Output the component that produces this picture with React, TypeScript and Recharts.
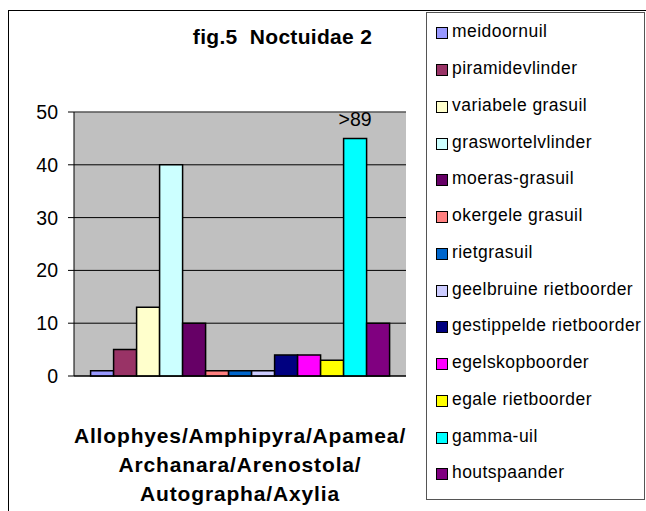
import React from 'react';
import { BarChart, Bar, XAxis, YAxis, CartesianGrid, Legend, LabelList, ReferenceLine } from 'recharts';

const categoryLines = ['Allophyes/Amphipyra/Apamea/', 'Archanara/Arenostola/', 'Autographa/Axylia'];
const categoryName = categoryLines.join('\n');

const seriesNames = [
  'meidoornuil',
  'piramidevlinder',
  'variabele grasuil',
  'graswortelvlinder',
  'moeras-grasuil',
  'okergele grasuil',
  'rietgrasuil',
  'geelbruine rietboorder',
  'gestippelde rietboorder',
  'egelskopboorder',
  'egale rietboorder',
  'gamma-uil',
  'houtspaander',
];

const seriesValues = [1, 5, 13, 40, 10, 1, 1, 1, 4, 4, 3, 45, 10];

const seriesLabels = ['', '', '', '', '', '', '', '', '', '', '', '>89', ''];

const seriesColors = [
  '#9999FF',
  '#993366',
  '#FFFFCC',
  '#CCFFFF',
  '#660066',
  '#FF8080',
  '#0066CC',
  '#CCCCFF',
  '#000080',
  '#FF00FF',
  '#FFFF00',
  '#00FFFF',
  '#800080',
];

const yTicks = [0, 10, 20, 30, 40, 50];
const titleText = 'fig.5  Noctuidae 2';

const row: Record<string, any> = { name: categoryName };
seriesNames.forEach((n, i) => {
  row['s' + i] = seriesValues[i];
});
const data = [row];

const FONT = '"Liberation Sans", Arial, sans-serif';

const CategoryTick = (props: any) => {
  const { x, y, payload } = props;
  const lines = String(payload.value).split('\n');
  return (
    <text
      x={x}
      y={y}
      textAnchor="middle"
      fontFamily={FONT}
      fontWeight="bold"
      fontSize={21}
      fill="#000"
      style={{ letterSpacing: '0.85px' }}
    >
      {lines.map((l, i) => (
        <tspan key={i} x={x} y={y + 67 + i * 29}>
          {l}
        </tspan>
      ))}
    </text>
  );
};

const LegendContent = (props: any) => {
  const payload = [...(props.payload || [])].sort(
    (a: any, b: any) => seriesNames.indexOf(a.value) - seriesNames.indexOf(b.value)
  );
  return (
    <div style={{ paddingTop: 2, fontFamily: FONT }}>
      {payload.map((p: any, i: number) => (
        <div
          key={i}
          style={{ height: 36.75, display: 'flex', alignItems: 'center', paddingLeft: 9 }}
        >
          <span
            style={{
              display: 'inline-block',
              width: 12,
              height: 12,
              boxSizing: 'border-box',
              border: '1px solid #000',
              background: p.color,
              flexShrink: 0,
            }}
          />
          <span
            style={{
              fontSize: 17.5,
              lineHeight: '17px',
              marginLeft: 4,
              position: 'relative',
              top: -1.5,
              color: '#000',
              whiteSpace: 'nowrap',
              letterSpacing: '0.45px',
            }}
          >
            {p.value}
          </span>
        </div>
      ))}
    </div>
  );
};

export default function App() {
  return (
    <div
      style={{
        position: 'absolute',
        left: 0,
        top: 0,
        width: 646,
        height: 511,
        overflow: 'hidden',
        background: '#fff',
        fontFamily: FONT,
      }}
    >
      <div
        style={{
          position: 'absolute',
          left: 8,
          top: 10,
          width: 700,
          height: 600,
          border: '1px solid #000',
          boxSizing: 'border-box',
        }}
      />
      <div
        style={{
          position: 'absolute',
          left: 172,
          top: 27,
          width: 221,
          textAlign: 'center',
          fontSize: 21,
          lineHeight: '20px',
          fontWeight: 'bold',
          whiteSpace: 'pre',
          color: '#000',
          letterSpacing: '0.3px',
        }}
      >
        {titleText}
      </div>
      <div style={{ position: 'absolute', left: 0, top: 0 }}>
        <BarChart
          width={646}
          height={511}
          data={data}
          margin={{ top: 112, right: 240, left: 14, bottom: 0 }}
          barGap={0}
          barCategoryGap="5%"
          style={{ fontFamily: FONT }}
        >
          <CartesianGrid vertical={false} stroke="#000" fill="#C0C0C0" fillOpacity={1} />
          <XAxis
            dataKey="name"
            axisLine={{ stroke: '#000' }}
            tickLine={false}
            tickSize={0}
            tickMargin={0}
            height={135}
            tick={<CategoryTick />}
            interval={0}
          />
          <YAxis
            domain={[0, 50]}
            ticks={yTicks}
            width={60}
            axisLine={{ stroke: '#000' }}
            tickLine={{ stroke: '#000' }}
            tickSize={6}
            tickMargin={10}
            tick={{ fill: '#000', fontSize: 19.5, fontFamily: FONT }}
            interval={0}
          />
          <YAxis
            yAxisId="right"
            orientation="right"
            domain={[0, 50]}
            ticks={yTicks}
            width={0}
            axisLine={{ stroke: '#808080' }}
            tickLine={false}
            tick={false}
          />
          <ReferenceLine y={50} stroke="#808080" />
          {seriesNames.map((n, i) => (
            <Bar
              key={n}
              dataKey={'s' + i}
              name={n}
              fill={seriesColors[i]}
              stroke="#000"
              strokeWidth={1.5}
              isAnimationActive={false}
            >
              {seriesLabels[i] ? (
                <LabelList
                  dataKey={'s' + i}
                  position="top"
                  offset={12}
                  formatter={() => seriesLabels[i]}
                  fill="#000"
                  fontSize={19.5}
                  fontFamily={FONT}
                />
              ) : null}
            </Bar>
          ))}
          <Legend
            layout="horizontal"
            verticalAlign="middle"
            align="center"
            content={<LegendContent />}
            wrapperStyle={{
              position: 'absolute',
              left: 426,
              top: 12,
              width: 219,
              height: 488,
              border: '1px solid #555',
              boxSizing: 'border-box',
              background: '#fff',
            }}
          />
        </BarChart>
      </div>
    </div>
  );
}
